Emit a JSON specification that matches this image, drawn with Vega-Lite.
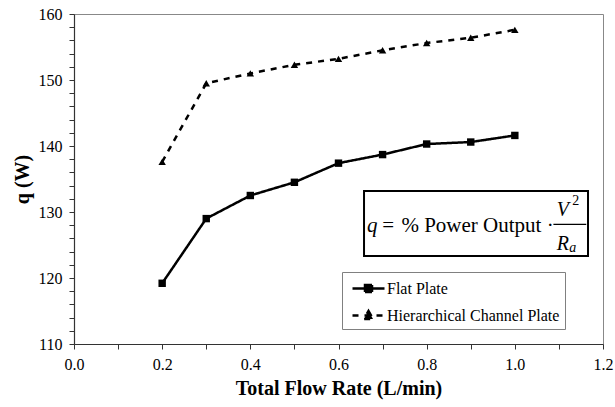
{
  "$schema": "https://vega.github.io/schema/vega-lite/v6.json",
  "width": 529,
  "height": 330,
  "autosize": {"type": "none"},
  "padding": {"left": 74, "top": 14, "right": 12, "bottom": 63},
  "background": "white",
  "resolve": {"axis": {"x": "independent", "y": "independent"}},
  "config": {
    "font": "Liberation Serif, Times New Roman, Times, serif",
    "view": {"stroke": "#888888", "strokeWidth": 1},
    "axis": {
      "grid": false,
      "domainColor": "#333333",
      "domainWidth": 1.2,
      "tickColor": "#333333",
      "tickSize": 5,
      "labelColor": "#000000",
      "titleColor": "#000000",
      "labelFont": "Liberation Serif, Times New Roman, Times, serif",
      "titleFont": "Liberation Serif, Times New Roman, Times, serif",
      "labelFontSize": 16,
      "titleFontSize": 20,
      "titleFontWeight": "bold",
      "labelFlush": false,
      "labelOverlap": false
    },
    "legend": {
      "labelFont": "Liberation Serif, Times New Roman, Times, serif"
    }
  },
  "data": {
    "values": [
      {"flow": 0.2, "q": 119.2, "series": "Flat Plate"},
      {"flow": 0.3, "q": 129.0, "series": "Flat Plate"},
      {"flow": 0.4, "q": 132.5, "series": "Flat Plate"},
      {"flow": 0.5, "q": 134.5, "series": "Flat Plate"},
      {"flow": 0.6, "q": 137.4, "series": "Flat Plate"},
      {"flow": 0.7, "q": 138.7, "series": "Flat Plate"},
      {"flow": 0.8, "q": 140.3, "series": "Flat Plate"},
      {"flow": 0.9, "q": 140.6, "series": "Flat Plate"},
      {"flow": 1.0, "q": 141.6, "series": "Flat Plate"},
      {"flow": 0.2, "q": 137.6, "series": "Hierarchical Channel Plate"},
      {"flow": 0.3, "q": 149.5, "series": "Hierarchical Channel Plate"},
      {"flow": 0.4, "q": 151.0, "series": "Hierarchical Channel Plate"},
      {"flow": 0.5, "q": 152.3, "series": "Hierarchical Channel Plate"},
      {"flow": 0.6, "q": 153.2, "series": "Hierarchical Channel Plate"},
      {"flow": 0.7, "q": 154.5, "series": "Hierarchical Channel Plate"},
      {"flow": 0.8, "q": 155.6, "series": "Hierarchical Channel Plate"},
      {"flow": 0.9, "q": 156.4, "series": "Hierarchical Channel Plate"},
      {"flow": 1.0, "q": 157.6, "series": "Hierarchical Channel Plate"}
    ]
  },
  "layer": [
    {
      "mark": {"type": "line", "color": "black", "strokeWidth": 2.5},
      "encoding": {
        "x": {
          "field": "flow",
          "type": "quantitative",
          "scale": {"domain": [0, 1.2], "nice": false, "zero": false},
          "axis": {
            "title": "Total Flow Rate (L/min)",
            "orient": "bottom",
            "values": [0, 0.1, 0.2, 0.3, 0.4, 0.5, 0.6, 0.7, 0.8, 0.9, 1.0, 1.1, 1.2],
            "labelExpr": "round(datum.value*10) % 2 == 0 ? format(datum.value, '.1f') : ''",
            "labelOverlap": false,
            "labelPadding": 7,
            "titlePadding": 6
          }
        },
        "y": {
          "field": "q",
          "type": "quantitative",
          "scale": {"domain": [110, 160], "nice": false, "zero": false},
          "axis": {
            "title": "q (W)",
            "orient": "left",
            "values": [110, 112, 114, 116, 118, 120, 122, 124, 126, 128, 130, 132, 134, 136, 138, 140, 142, 144, 146, 148, 150, 152, 154, 156, 158, 160],
            "labelExpr": "datum.value % 10 == 0 ? format(datum.value, 'd') : ''",
            "labelOverlap": false,
            "labelPadding": 7,
            "titlePadding": 6
          }
        },
        "strokeDash": {
          "field": "series",
          "type": "nominal",
          "scale": {"domain": ["Flat Plate", "Hierarchical Channel Plate"], "range": [[1, 0], [6, 6]]},
          "legend": {
            "title": null,
            "orient": "none",
            "legendX": 268,
            "legendY": 258,
            "strokeColor": "#808080",
            "fillColor": "white",
            "padding": 5,
            "symbolSize": 400,
            "symbolStrokeWidth": 2.5,
            "symbolStrokeColor": "black",
            "symbolFillColor": "black",
            "symbolOffset": 10,
            "labelOffset": 7,
            "rowPadding": 7,
            "labelFontSize": 16,
            "labelColor": "black",
            "labelLimit": 300,
            "encode": {
              "symbols": {
                "update": {
                  "shape": {"signal": "datum.value == 'Flat Plate' ? 'M-1.6,0H1.6M-0.35,-0.35H0.35V0.35H-0.35Z' : 'M-1.6,0H1.6M0,-0.45L0.45,0.35H-0.45Z'"},
                  "fill": {"value": "black"},
                  "stroke": {"value": "black"},
                  "strokeWidth": {"value": 2.5}
                }
              }
            }
          }
        }
      }
    },
    {
      "transform": [{"filter": "datum.series == 'Flat Plate'"}],
      "mark": {"type": "point", "filled": true, "color": "black", "size": 55, "opacity": 1, "shape": "square"},
      "encoding": {
        "x": {"field": "flow", "type": "quantitative", "axis": null},
        "y": {"field": "q", "type": "quantitative", "axis": null}
      }
    },
    {
      "transform": [{"filter": "datum.series == 'Hierarchical Channel Plate'"}],
      "mark": {"type": "point", "filled": true, "color": "black", "size": 55, "opacity": 1, "shape": "triangle-up"},
      "encoding": {
        "x": {"field": "flow", "type": "quantitative", "axis": null},
        "y": {"field": "q", "type": "quantitative", "axis": null}
      }
    },
    {
      "data": {"values": [{}]},
      "mark": {"type": "rect", "fill": "white", "stroke": "black", "strokeWidth": 2},
      "encoding": {
        "x": {"datum": 0.6579, "type": "quantitative", "axis": null},
        "x2": {"datum": 1.166},
        "y": {"datum": 133.18, "type": "quantitative", "axis": null},
        "y2": {"datum": 123.33}
      }
    },
    {
      "data": {"values": [{}]},
      "mark": {"type": "text", "text": "q", "font": "Liberation Serif, Times New Roman, Times, serif", "fontStyle": "italic", "fontSize": 21, "align": "left", "baseline": "alphabetic", "color": "black"},
      "encoding": {
        "x": {"datum": 0.6648, "type": "quantitative", "axis": null},
        "y": {"datum": 126.97, "type": "quantitative", "axis": null}
      }
    },
    {
      "data": {"values": [{}]},
      "mark": {"type": "text", "text": "=", "font": "Liberation Serif, Times New Roman, Times, serif", "fontSize": 21, "align": "left", "baseline": "alphabetic", "color": "black"},
      "encoding": {
        "x": {"datum": 0.699, "type": "quantitative", "axis": null},
        "y": {"datum": 126.97, "type": "quantitative", "axis": null}
      }
    },
    {
      "data": {"values": [{}]},
      "mark": {"type": "text", "text": "% Power Output ·", "font": "Liberation Serif, Times New Roman, Times, serif", "fontSize": 21, "align": "left", "baseline": "alphabetic", "color": "black"},
      "encoding": {
        "x": {"datum": 0.7427, "type": "quantitative", "axis": null},
        "y": {"datum": 126.97, "type": "quantitative", "axis": null}
      }
    },
    {
      "data": {"values": [{}]},
      "mark": {"type": "text", "text": "V", "font": "Liberation Serif, Times New Roman, Times, serif", "fontStyle": "italic", "fontSize": 20, "align": "left", "baseline": "alphabetic", "color": "black"},
      "encoding": {
        "x": {"datum": 1.0952, "type": "quantitative", "axis": null},
        "y": {"datum": 129.44, "type": "quantitative", "axis": null}
      }
    },
    {
      "data": {"values": [{}]},
      "mark": {"type": "text", "text": "2", "font": "Liberation Serif, Times New Roman, Times, serif", "fontSize": 14, "align": "left", "baseline": "alphabetic", "color": "black"},
      "encoding": {
        "x": {"datum": 1.13, "type": "quantitative", "axis": null},
        "y": {"datum": 131.1, "type": "quantitative", "axis": null}
      }
    },
    {
      "data": {"values": [{}]},
      "mark": {"type": "rule", "color": "black", "strokeWidth": 1.3},
      "encoding": {
        "x": {"datum": 1.0875, "type": "quantitative", "axis": null},
        "x2": {"datum": 1.162},
        "y": {"datum": 128.14, "type": "quantitative", "axis": null}
      }
    },
    {
      "data": {"values": [{}]},
      "mark": {"type": "text", "text": "R", "font": "Liberation Serif, Times New Roman, Times, serif", "fontStyle": "italic", "fontSize": 20, "align": "left", "baseline": "alphabetic", "color": "black"},
      "encoding": {
        "x": {"datum": 1.0952, "type": "quantitative", "axis": null},
        "y": {"datum": 124.24, "type": "quantitative", "axis": null}
      }
    },
    {
      "data": {"values": [{}]},
      "mark": {"type": "text", "text": "a", "font": "Liberation Serif, Times New Roman, Times, serif", "fontStyle": "italic", "fontSize": 14, "align": "left", "baseline": "alphabetic", "color": "black"},
      "encoding": {
        "x": {"datum": 1.1235, "type": "quantitative", "axis": null},
        "y": {"datum": 123.98, "type": "quantitative", "axis": null}
      }
    }
  ]
}
